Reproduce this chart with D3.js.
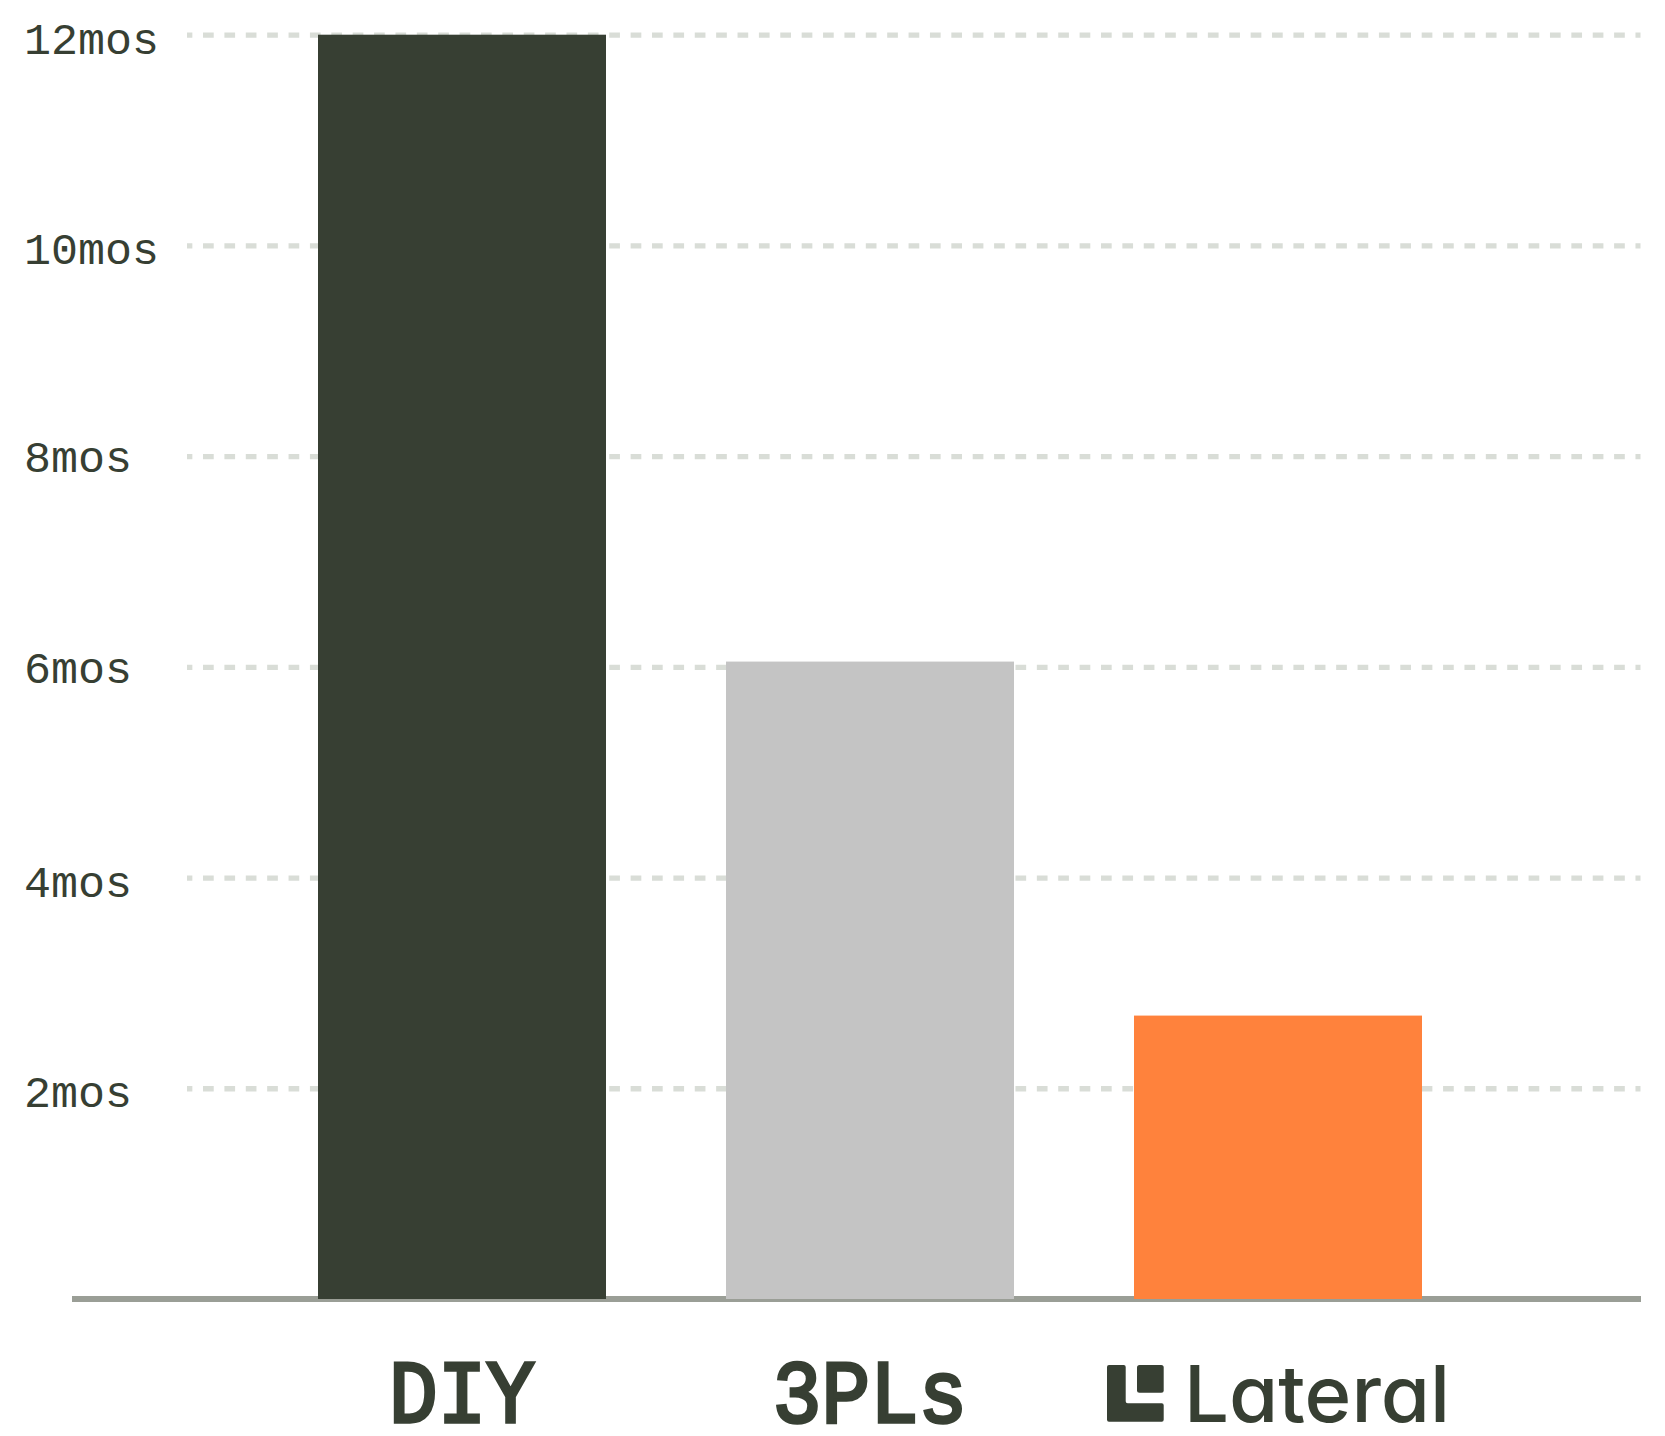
<!DOCTYPE html>
<html>
<head>
<meta charset="utf-8">
<script src="https://cdn.jsdelivr.net/npm/d3@7"></script>
<style>
  html, body { margin: 0; padding: 0; background: #fff; }
  svg { display: block; }
</style>
</head>
<body>
<div id="graph"></div>
<script>
// Values
const categories = ['DIY', '3PLs', 'Lateral']
const months = [12, 6.05, 2.69]
const barColors = ['#373f33', '#c4c4c4', '#ff823c']
const yTicks = [2, 4, 6, 8, 10, 12]

const total_width = 1665
const total_height = 1436
const dark = '#373f33'

const svg = d3.select('#graph').append('svg')
  .attr('width', total_width)
  .attr('height', total_height)

const x = d3.scaleBand()
  .domain(categories)
  .range([258, 1482])
  .paddingInner(120 / 408)
  .paddingOuter(60 / 408)

const y = d3.scaleLinear().domain([0, 12]).range([1299, 34.7])

// Dashed grid lines, behind the bars
const yAxis = d3.axisLeft(y)
  .tickValues(yTicks)
  .tickSize(-(1640.5 - 187))
  .tickFormat(d => d + 'mos')

const yAxisG = svg.append('g')
  .attr('transform', 'translate(187, 0)')
  .call(yAxis)
yAxisG.select('.domain').remove()
yAxisG.selectAll('.tick line')
  .attr('stroke', '#d9ddd7')
  .attr('stroke-width', 5.33)
  .attr('stroke-dasharray', '10.69 10.69')
  .attr('stroke-dashoffset', 5.35)
// the 6 and 8 labels sit a little higher than the others in the original
yAxisG.selectAll('.tick text')
  .attr('x', -163)
  .attr('text-anchor', 'start')
  .attr('dy', d => (d === 6 || d === 8) ? 15.5 : 18.5)
  .attr('fill', dark)
  .style('font-family', '"Liberation Mono", monospace')
  .style('font-size', '45px')

// Baseline
svg.append('line')
  .attr('x1', 72).attr('x2', 1641)
  .attr('y1', y(0)).attr('y2', y(0))
  .attr('stroke', '#9a9e96')
  .attr('stroke-width', 6)

svg.selectAll('rect.bar')
  .data(categories)
  .join('rect')
  .attr('class', 'bar')
  .attr('x', d => x(d))
  .attr('width', x.bandwidth())
  .attr('y', (d, i) => y(months[i]))
  .attr('height', (d, i) => y(0) - y(months[i]))
  .attr('fill', (d, i) => barColors[i])

// Category labels. The first two are narrow mono text
svg.selectAll('text.cat')
  .data(categories.slice(0, 2))
  .join('text')
  .attr('class', 'cat')
  .attr('transform', d => `translate(${x(d) + x.bandwidth() / 2}, 1422) scale(0.91, 1)`)
  .attr('text-anchor', 'middle')
  .attr('fill', dark)
  .attr('stroke', dark)
  .attr('stroke-width', 3.5)
  .style('font-family', '"Liberation Mono", monospace')
  .style('font-size', '89px')
  .text(d => d)

// Lateral logo mark + wordmark
const logo = svg.append('g').attr('transform', 'translate(1107, 1365)')
logo.append('path')
  .attr('fill', dark)
  .attr('d', 'M2 0H16.7Q18.7 0 18.7 2V36.3Q18.7 38.3 20.7 38.3H54.7Q56.7 38.3 56.7 40.3V54.7Q56.7 56.7 54.7 56.7H2Q0 56.7 0 54.7V2Q0 0 2 0Z')
logo.append('rect')
  .attr('x', 30).attr('y', 0)
  .attr('width', 26.7).attr('height', 27.7)
  .attr('rx', 2.5)
  .attr('fill', dark)

svg.append('text')
  .attr('x', 1184)
  .attr('y', 1422)
  .attr('fill', dark)
  .attr('textLength', 266)
  .attr('lengthAdjust', 'spacingAndGlyphs')
  .style('font-family', 'Inter, Lato, sans-serif')
  .style('font-feature-settings', '"cv11" 1')
  .style('font-weight', 500)
  .style('font-size', '78px')
  .text(categories[2])
</script>
</body>
</html>
